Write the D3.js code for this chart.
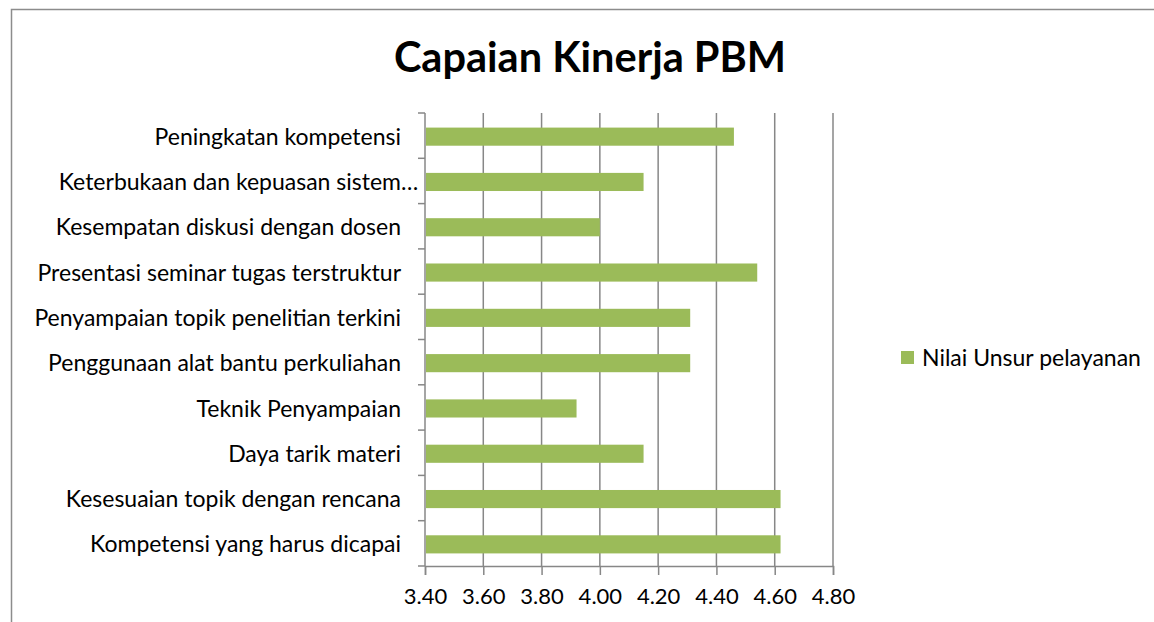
<!DOCTYPE html>
<html>
<head>
<meta charset="utf-8">
<script src="https://cdn.jsdelivr.net/npm/d3@7"></script>
<style>
  body { margin: 0; background: #fff; }
  svg { display: block; font-family: Lato, "Open Sans", sans-serif; }
</style>
</head>
<body>
<div id="chart"></div>
<script>
// categories top to bottom
var categories = [
  "Peningkatan kompetensi",
  "Keterbukaan dan kepuasan sistem…",
  "Kesempatan diskusi dengan dosen",
  "Presentasi seminar tugas terstruktur",
  "Penyampaian topik penelitian terkini",
  "Penggunaan alat bantu perkuliahan",
  "Teknik Penyampaian",
  "Daya tarik materi",
  "Kesesuaian topik dengan rencana",
  "Kompetensi yang harus dicapai"
];
var values = [4.46, 4.15, 4.00, 4.54, 4.31, 4.31, 3.92, 4.15, 4.62, 4.62];
var xTicks = [3.40, 3.60, 3.80, 4.00, 4.20, 4.40, 4.60, 4.80];
var seriesName = "Nilai Unsur pelayanan";
var title = "Capaian Kinerja PBM";

var W = 1154, H = 622;
var margin = {top: 113, left: 425};
var width = 408, height = 453;
var gridColor = "#878787";
var barColor = "#9bbb59";
var labelSize = "23px";

var svg = d3.select("#chart").append("svg")
  .attr("width", W)
  .attr("height", H);

// chart frame
svg.append("rect")
  .attr("x", 11.5).attr("y", 9.5)
  .attr("width", 1160).attr("height", 640)
  .attr("fill", "none")
  .attr("stroke", "#8c8c8c")
  .attr("stroke-width", 1.5);

svg.append("text")
  .attr("x", 590)
  .attr("y", 72)
  .attr("text-anchor", "middle")
  .attr("font-size", "41.5px")
  .attr("font-weight", "bold")
  .attr("fill", "#000")
  .text(title);

var plot = svg.append("g")
  .attr("transform", "translate(" + margin.left + "," + margin.top + ")");

var x = d3.scaleLinear()
  .domain([3.4, 4.8])
  .range([0, width]);

var y = d3.scaleBand()
  .domain(categories)
  .range([0, height])
  .paddingInner(0.6)
  .paddingOuter(0.3);

// vertical gridlines
plot.selectAll("line.grid")
  .data(xTicks.slice(1))
  .enter().append("line")
  .attr("class", "grid")
  .attr("x1", d => x(d)).attr("x2", d => x(d))
  .attr("y1", 0).attr("y2", height)
  .attr("stroke", gridColor)
  .attr("stroke-width", 1.5);

// bars
plot.selectAll("rect.bar")
  .data(values)
  .enter().append("rect")
  .attr("class", "bar")
  .attr("x", x(3.4) + 1)
  .attr("y", (d, i) => y(categories[i]) + 1)
  .attr("width", d => x(d) - x(3.4) - 1)
  .attr("height", y.bandwidth())
  .attr("fill", barColor);

// x axis
var xAxis = plot.append("g")
  .attr("transform", "translate(0," + height + ")")
  .call(d3.axisBottom(x).tickValues(xTicks).tickFormat(d3.format(".2f")).tickSize(9).tickPadding(13));
xAxis.select(".domain").attr("stroke", gridColor).attr("stroke-width", 1.5);
xAxis.selectAll(".tick line").attr("stroke", gridColor).attr("stroke-width", 1.5);
xAxis.selectAll("text")
  .attr("font-size", "22px")
  .attr("font-family", "Lato, sans-serif")
  .attr("fill", "#000");

// y axis line and category boundary ticks
plot.append("line")
  .attr("x1", 0).attr("x2", 0)
  .attr("y1", 0).attr("y2", height)
  .attr("stroke", gridColor)
  .attr("stroke-width", 1.5);
var step = height / categories.length;
plot.selectAll("line.ytick")
  .data(d3.range(categories.length + 1))
  .enter().append("line")
  .attr("class", "ytick")
  .attr("x1", -7).attr("x2", 0)
  .attr("y1", d => d * step).attr("y2", d => d * step)
  .attr("stroke", gridColor)
  .attr("stroke-width", 1.5);

// category labels
var ell = plot.append("text").attr("font-size", labelSize).text("…");
var ellW = ell.node().getComputedTextLength();
ell.remove();
plot.selectAll("text.cat")
  .data(categories)
  .enter().append("text")
  .attr("class", "cat")
  .attr("x", d => d.endsWith("…") ? -24 + ellW : -24)
  .attr("y", d => y(d) + y.bandwidth() / 2 + 1)
  .attr("dy", "0.35em")
  .attr("text-anchor", "end")
  .attr("font-size", labelSize)
  .attr("fill", "#000")
  .text(d => d);

// legend
var legend = svg.append("g").attr("transform", "translate(901,351)");
legend.append("rect")
  .attr("width", 13).attr("height", 13)
  .attr("fill", barColor);
legend.append("text")
  .attr("x", 21)
  .attr("y", 7)
  .attr("dy", "0.35em")
  .attr("font-size", labelSize)
  .attr("fill", "#000")
  .text(seriesName);
</script>
</body>
</html>
